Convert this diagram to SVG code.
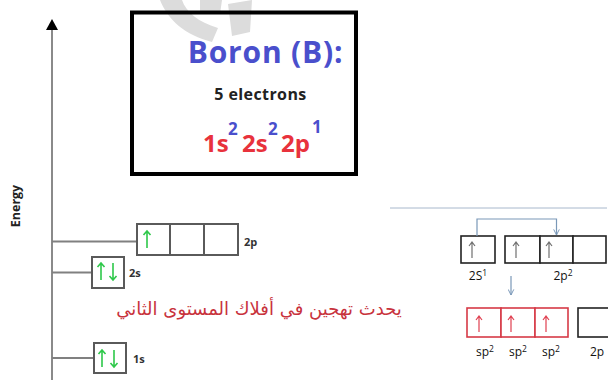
<svg xmlns="http://www.w3.org/2000/svg" width="608" height="380" viewBox="0 0 608 380">
<style>
.lvl{stroke:#808080;stroke-width:2;fill:none}
.ob{fill:#fff;stroke:#5a5a5a;stroke-width:2}
.lab{font-family:"Open Sans","Liberation Sans",sans-serif;font-weight:bold;font-size:11px;fill:#333}
.ga{stroke:#2ec84a;stroke-width:1.6;fill:none}
.ka{stroke:#707070;stroke-width:1.2;fill:none}
.ra{stroke:#e04050;stroke-width:1.2;fill:none}
.bb{fill:#fff;stroke:#222;stroke-width:1.6}
.rb{fill:#fff;stroke:#d63a46;stroke-width:1.6}
.rl{font-family:"Open Sans","Liberation Sans",sans-serif;font-size:12px;fill:#111}
.sup{font-size:8.5px}
.con{stroke:#7a98b8;stroke-width:1.2;fill:none}
.big{font-family:"Open Sans","Liberation Sans",sans-serif;font-weight:bold}
</style>
<defs>
<marker id="ah" viewBox="0 0 10 10" refX="9" refY="5" markerWidth="7" markerHeight="7" orient="auto" markerUnits="userSpaceOnUse"><path d="M1,1 L9,5 L1,9" fill="none" stroke="#7a98b8" stroke-width="1.4"/></marker>
</defs>
<rect width="608" height="380" fill="#fff"/>
<!-- energy axis -->
<g id="axis">
<line x1="52" y1="28" x2="52" y2="380" stroke="#8a8a8a" stroke-width="2"/>
<path d="M46,30 L52,19 L58,30 Z" fill="#000"/>
<text x="20" y="206" transform="rotate(-90 20 206)" text-anchor="middle" font-family="Open Sans, Liberation Sans, sans-serif" font-weight="bold" font-size="12.5" fill="#222">Energy</text>
</g>
<!-- title box -->
<g id="title">
<rect x="132" y="12.5" width="224" height="161.5" fill="#fff"/>
<g id="watermark" fill="#dcdcdc">
<path d="M160,0 C168,20 185,35 212,42 L218,28 C198,22 186,12 182,0 Z"/>
<path d="M200,0 L222,0 L220,14 L200,12 Z"/>
<path d="M228,4 L252,0 L250,32 L232,36 Z"/>
</g>
<rect x="132" y="12.5" width="224" height="161.5" fill="none" stroke="#000" stroke-width="4"/>
<text class="big" x="265.5" y="63" text-anchor="middle" font-size="30" letter-spacing="0.8" fill="#4a4fcc">Boron (B):</text>
<text class="big" x="260.5" y="100" text-anchor="middle" font-size="16" letter-spacing="0.4" fill="#222">5 electrons</text>
<text class="big" x="203" y="152" font-size="24" fill="#e8323c">1s</text>
<text class="big" x="228" y="135" font-size="17" fill="#4a4fcc">2</text>
<text class="big" x="242" y="152" font-size="24" fill="#e8323c">2s</text>
<text class="big" x="268" y="135" font-size="17" fill="#4a4fcc">2</text>
<text class="big" x="281" y="152" font-size="24" fill="#e8323c">2p</text>
<text class="big" x="312" y="133" font-size="17" fill="#4a4fcc">1</text>
</g>
<!-- 2p level -->
<g id="level-2p">
<line class="lvl" x1="52" y1="241.5" x2="137" y2="241.5"/>
<rect class="ob" x="137" y="224" width="33" height="31"/>
<rect class="ob" x="170" y="224" width="34" height="31"/>
<rect class="ob" x="204" y="224" width="34" height="31"/>
<path class="ga" d="M147,248 V231 M143.5,235 L147,231 L150.5,235"/>
<text class="lab" x="244" y="246">2p</text>
</g>
<!-- 2s level -->
<g id="level-2s">
<line class="lvl" x1="52" y1="272.5" x2="92" y2="272.5"/>
<rect class="ob" x="92" y="257" width="32" height="31"/>
<path class="ga" d="M101,280 V263 M97.5,267 L101,263 L104.5,267"/>
<path class="ga" d="M113,263 V280 M109.5,276 L113,280 L116.5,276"/>
<text class="lab" x="129" y="277">2s</text>
</g>
<!-- 1s level -->
<g id="level-1s">
<line class="lvl" x1="52" y1="358" x2="94" y2="358"/>
<rect class="ob" x="94" y="343" width="32" height="30"/>
<path class="ga" d="M102,367 V350 M98.5,354 L102,350 L105.5,354"/>
<path class="ga" d="M114,350 V367 M110.5,363 L114,367 L117.5,363"/>
<text class="lab" x="133" y="363">1s</text>
</g>
<!-- arabic note -->
<g id="note">
<text x="259" y="315" text-anchor="middle" font-family="DejaVu Sans, Noto Sans, sans-serif" font-size="18" fill="#c8323c">يحدث تهجين في أفلاك المستوى الثاني</text>
</g>
<!-- right side -->
<g id="separator">
<line x1="390" y1="208" x2="607" y2="208" stroke="#a8b8cc" stroke-width="1"/>
</g>
<g id="orb-2s1">
<rect class="bb" x="461" y="236" width="34" height="27"/>
<path class="ka" d="M472,258 V242 M469,246 L472,242 L475,246"/>
<text class="rl" x="478" y="280" text-anchor="middle">2S<tspan class="sup" dy="-4.5">1</tspan></text>
</g>
<g id="orb-2p2">
<rect class="bb" x="505" y="236" width="35" height="27"/>
<rect class="bb" x="540" y="236" width="33" height="27"/>
<rect class="bb" x="573" y="236" width="33" height="27"/>
<path class="ka" d="M516,258 V242 M513,246 L516,242 L519,246"/>
<path class="ka" d="M549,258 V242 M546,246 L549,242 L552,246"/>
<text class="rl" x="563" y="280" text-anchor="middle">2p<tspan class="sup" dy="-4.5">2</tspan></text>
</g>
<g id="orb-sp2">
<rect class="rb" x="467" y="308" width="34" height="29"/>
<rect class="rb" x="501" y="308" width="34" height="29"/>
<rect class="rb" x="535" y="308" width="33" height="29"/>
<path class="ra" d="M479,332 V316 M476,320 L479,316 L482,320"/>
<path class="ra" d="M511,332 V316 M508,320 L511,316 L514,320"/>
<path class="ra" d="M546,332 V316 M543,320 L546,316 L549,320"/>
<text class="rl" x="485" y="356" text-anchor="middle">sp<tspan class="sup" dy="-4.5">2</tspan></text>
<text class="rl" x="518" y="356" text-anchor="middle">sp<tspan class="sup" dy="-4.5">2</tspan></text>
<text class="rl" x="551" y="356" text-anchor="middle">sp<tspan class="sup" dy="-4.5">2</tspan></text>
</g>
<g id="orb-2p">
<rect class="bb" x="578" y="308" width="34" height="29"/>
<text class="rl" x="597" y="356" text-anchor="middle">2p</text>
</g>
<g id="connectors">
<path class="con" d="M477,236 V219 H556.5 V235" marker-end="url(#ah)"/>
<path class="con" d="M511,276 V295" marker-end="url(#ah)"/>
</g>
</svg>
